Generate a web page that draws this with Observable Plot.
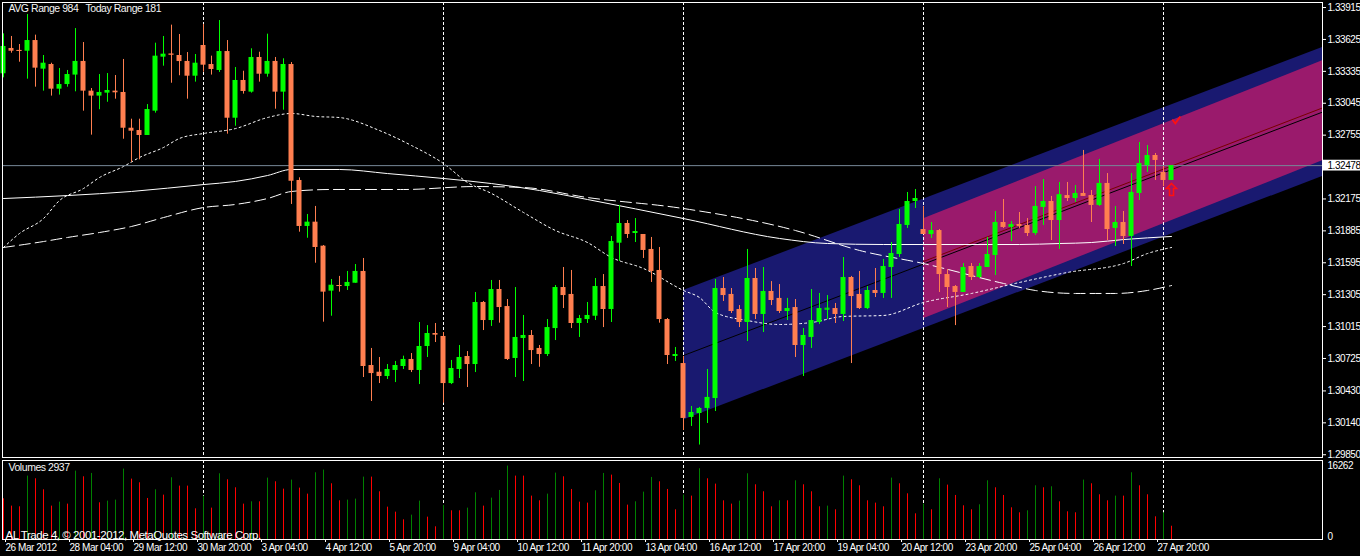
<!DOCTYPE html>
<html><head><meta charset="utf-8">
<script src="https://cdn.jsdelivr.net/npm/d3@7"></script>
<script src="https://cdn.jsdelivr.net/npm/@observablehq/plot@0.6"></script>
<style>
html,body{margin:0;padding:0;background:#000;}
#chart{width:1360px;height:556px;overflow:hidden;background:#000;}
#chart svg{display:block;}
</style></head><body><div id="chart"></div>
<script>
// ---- EURUSD H4, 26 Mar 2012 20:00 .. 30 Apr 04:00 (bar index 0..146)
const open = [
1.33313,1.33543,1.33525,1.33518,1.33615,1.33355,1.33397,1.33173,1.33215,1.33301,
1.33425,1.33155,1.33110,1.33137,1.33155,1.33143,1.32818,1.32797,1.32752,1.32973,
1.33464,1.33491,1.33479,1.33425,1.33291,1.33570,1.33397,1.33343,1.33515,1.32909,
1.33252,1.33146,1.33461,1.33309,1.33425,1.33146,1.33397,1.32343,1.31925,1.31964,
1.31746,1.31337,1.31388,1.31379,1.31409,1.31516,1.30661,1.30600,1.30561,1.30616,
1.30652,1.30716,1.30616,1.30834,1.30952,1.30925,1.30497,1.30625,1.30743,1.30670,
1.31234,1.31070,1.31352,1.31197,1.30725,1.30907,1.30934,1.30816,1.30761,1.30997,
1.31370,1.31307,1.31043,1.31079,1.31109,1.31379,1.31170,1.31773,1.31952,1.31870,
1.31852,1.31716,1.31525,1.31079,1.30752,1.30679,1.30189,1.30225,1.30271,1.30361,
1.31361,1.31307,1.31170,1.31052,1.31452,1.31125,1.31334,1.31271,1.31152,1.31188,
1.30843,1.30916,1.31052,1.31173,1.31179,1.31125,1.31461,1.31307,1.31179,1.31343,
1.31316,1.31552,1.31670,1.31934,1.32152,1.31897,1.31852,1.31888,1.31488,1.31379,
1.31325,1.31561,1.31461,1.31552,1.31661,1.31961,1.31916,1.31943,1.31934,1.31861,
1.32098,1.32152,1.31979,1.32206,1.32179,1.32225,1.32206,1.32116,1.32316,1.31907,
1.31961,1.31834,1.32225,1.32479,1.32570,1.32416,1.32343];
const high = [
1.33676,1.33652,1.33579,1.33852,1.33664,1.33479,1.33409,1.33361,1.33343,1.33724,
1.33597,1.33179,1.33306,1.33315,1.33297,1.33443,1.32900,1.32900,1.33033,1.33591,
1.33652,1.33755,1.33670,1.33506,1.33488,1.33761,1.33473,1.33797,1.33615,1.33370,
1.33336,1.33540,1.33509,1.33673,1.33461,1.33449,1.33415,1.32367,1.32034,1.32107,
1.31752,1.31443,1.31471,1.31516,1.31579,1.31634,1.30816,1.30734,1.30670,1.30698,
1.30746,1.30770,1.31052,1.31024,1.31043,1.30961,1.30707,1.30843,1.30788,1.31325,
1.31243,1.31434,1.31434,1.31261,1.31370,1.31116,1.30979,1.30843,1.31079,1.31388,
1.31552,1.31525,1.31116,1.31234,1.31452,1.31488,1.31834,1.32116,1.31979,1.31997,
1.31852,1.31825,1.31734,1.31088,1.30825,1.30743,1.30289,1.30280,1.30625,1.31443,
1.31461,1.31361,1.31206,1.31716,1.31543,1.31552,1.31424,1.31397,1.31271,1.31261,
1.30997,1.31352,1.31316,1.31297,1.31225,1.31643,1.31471,1.31516,1.31379,1.31543,
1.31625,1.31779,1.32079,1.32234,1.32261,1.32107,1.31961,1.31897,1.31534,1.31388,
1.31588,1.31588,1.31588,1.31825,1.32061,1.32170,1.31970,1.32052,1.31997,1.32288,
1.32352,1.32198,1.32325,1.32325,1.32297,1.32616,1.32252,1.32534,1.32406,1.32107,
1.32061,1.32406,1.32688,1.32661,1.32588,1.32470,1.32478];
const low = [
1.33276,1.33500,1.33418,1.33264,1.33191,1.33155,1.33110,1.33119,1.33191,1.33149,
1.32973,1.32755,1.32986,1.33054,1.33082,1.32718,1.32509,1.32531,1.32752,1.32955,
1.33382,1.33227,1.33295,1.33082,1.33237,1.33327,1.33301,1.33325,1.32764,1.32836,
1.33128,1.33137,1.33237,1.33282,1.32991,1.32982,1.32125,1.31873,1.31818,1.31591,
1.31055,1.31109,1.31328,1.31343,1.31409,1.30552,1.30334,1.30497,1.30534,1.30506,
1.30625,1.30597,1.30488,1.30734,1.30870,1.30319,1.30488,1.30543,1.30461,1.30597,
1.30979,1.31016,1.31046,1.30707,1.30552,1.30516,1.30670,1.30645,1.30743,1.30888,
1.31179,1.30997,1.30916,1.31043,1.31070,1.31006,1.31052,1.31607,1.31816,1.31779,
1.31634,1.31416,1.31046,1.30670,1.30698,1.30071,1.30107,1.29938,1.30134,1.30243,
1.31243,1.31134,1.31006,1.30879,1.31079,1.30961,1.31206,1.31134,1.31070,1.30734,
1.30561,1.30816,1.31034,1.31079,1.31043,1.31061,1.30679,1.31170,1.31170,1.31279,
1.31271,1.31271,1.31643,1.31907,1.32088,1.31852,1.31816,1.31325,1.31188,1.31024,
1.31325,1.31434,1.31452,1.31552,1.31479,1.31907,1.31788,1.31907,1.31834,1.31843,
1.31934,1.31797,1.31716,1.32152,1.32143,1.32198,1.31961,1.32107,1.31797,1.31743,
1.31761,1.31561,1.32161,1.32416,1.32343,1.32288,1.32343];
const close = [
1.33561,1.33518,1.33518,1.33615,1.33364,1.33409,1.33173,1.33215,1.33306,1.33425,
1.33155,1.33110,1.33143,1.33161,1.33140,1.32818,1.32791,1.32752,1.32988,1.33473,
1.33491,1.33485,1.33424,1.33291,1.33409,1.33391,1.33352,1.33515,1.32909,1.33252,
1.33152,1.33461,1.33309,1.33425,1.33146,1.33397,1.32336,1.31925,1.31964,1.31734,
1.31328,1.31391,1.31382,1.31416,1.31516,1.30652,1.30588,1.30561,1.30625,1.30661,
1.30716,1.30616,1.30834,1.30952,1.30937,1.30497,1.30634,1.30734,1.30670,1.31234,
1.31070,1.31352,1.31188,1.30716,1.30916,1.30934,1.30797,1.30761,1.31006,1.31370,
1.31297,1.31043,1.31088,1.31116,1.31379,1.31170,1.31788,1.31952,1.31852,1.31879,
1.31707,1.31516,1.31079,1.30752,1.30761,1.30180,1.30234,1.30271,1.30371,1.31361,
1.31297,1.31152,1.31052,1.31452,1.31125,1.31334,1.31252,1.31152,1.31179,1.30843,
1.30934,1.31070,1.31179,1.31182,1.31125,1.31461,1.31288,1.31179,1.31343,1.31316,
1.31561,1.31679,1.31943,1.32152,1.32179,1.31852,1.31888,1.31488,1.31370,1.31325,
1.31552,1.31461,1.31561,1.31670,1.31961,1.31916,1.31943,1.31925,1.31861,1.32107,
1.32152,1.31979,1.32214,1.32179,1.32225,1.32198,1.32116,1.32316,1.31897,1.31961,
1.31834,1.32234,1.32497,1.32570,1.32525,1.32343,1.32478];
const volume = [
9016,7390,7242,14041,13450,11011,7390,8277,7833,15150,
13893,14632,8129,8499,8720,15593,13376,12563,9090,11011,
9829,13672,11824,11824,6799,9607,6947,14558,13228,11455,
7833,8351,8351,13598,12785,11159,13154,11381,10050,14780,
15371,12341,8572,8720,8942,13819,13819,10568,7168,6060,
4360,5395,8499,4951,2808,7538,6355,6355,6947,10346,
7390,9164,10863,16262,14041,14041,9607,8572,10050,14706,
13893,11085,8277,8055,10789,14632,14263,12415,7612,8351,
10494,13745,12785,11085,6577,9829,9607,15667,13450,12267,
8572,7833,8499,14558,12120,10568,7242,8572,8572,13006,
12120,10568,7242,7390,6577,14041,13228,11898,8572,8055,
7242,13598,12341,10124,5690,7833,6577,13450,12046,9755,
7464,6577,7686,13006,11455,9755,7021,5912,6355,11898,
11455,11676,8351,6134,5912,13154,12341,9903,8572,9607,
9607,14780,11898,9903,5025,5912,2937];

// moving averages (sampled at bar indices)
const maDotIdx = [0,2,5,7,10,12,15,17,20,22,25,29,33,36,39,42,47,51,55,58,61,65,69,73,76,80,85,87,89,93,97,101,105,110,115,121,127,133,140,143,146];
const maDot = [1.31734,1.31861,1.31997,1.32161,1.32270,1.32370,1.32470,1.32552,1.32643,1.32725,1.32770,1.32815,1.32915,1.32952,1.32925,1.32915,1.32797,1.32661,1.32497,1.32325,1.32225,1.32052,1.31888,1.31779,1.31643,1.31543,1.31343,1.31279,1.31143,1.31070,1.31034,1.31052,1.31107,1.31116,1.31234,1.31316,1.31416,1.31507,1.31588,1.31679,1.31734];
const maSolidIdx = [0,8,16,25,29,33,36,42,48,55,61,67,73,85,97,103,110,127,132,136,140,146];
const maSolid = [1.32179,1.32206,1.32243,1.32306,1.32334,1.32388,1.32443,1.32443,1.32406,1.32361,1.32315,1.32252,1.32170,1.31997,1.31816,1.31770,1.31761,1.31761,1.31770,1.31779,1.31806,1.31834];
const maDashIdx = [0,5,8,12,16,20,25,29,33,36,41,50,59,65,73,85,99,107,115,125,129,134,139,143,146];
const maDash = [1.31734,1.31788,1.31825,1.31870,1.31925,1.32006,1.32097,1.32125,1.32179,1.32243,1.32261,1.32261,1.32288,1.32279,1.32188,1.32088,1.31888,1.31707,1.31588,1.31407,1.31343,1.31316,1.31316,1.31343,1.31388];

// regression channel (blue) and std-dev channel (magenta)
const chanIdx = [85, 165];
const chanMid = [1.30752, 1.32968];
const chanUp  = [1.31343, 1.33556];
const chanLo  = [1.30166, 1.32382];
const stdIdx = [115, 165];
const stdMid = [1.31607, 1.33006];
const stdUp  = [1.31995, 1.33434];
const stdLo  = [1.31086, 1.32525];

// signals
const arrowIdx = [146], arrowPrice = [1.32261];
const checkIdx = [146.6], checkPrice = [1.32888];

// axes
const priceTicks = [1.33915,1.33625,1.33335,1.33045,1.32755,1.32175,1.31885,1.31595,1.31305,1.31015,1.30725,1.30430,1.30140,1.29850];
const currentPrice = 1.32478;
const weekStartIdx = [25, 55, 85, 115, 145];
const timeIdx = [0,8,16,24,32,40,48,56,64,72,80,88,96,104,112,120,128,136,144];
const timeLabels = ["26 Mar 2012","28 Mar 04:00","29 Mar 12:00","30 Mar 20:00","3 Apr 04:00","4 Apr 12:00","5 Apr 20:00","9 Apr 04:00","10 Apr 12:00","11 Apr 20:00","13 Apr 04:00","16 Apr 12:00","17 Apr 20:00","19 Apr 04:00","20 Apr 12:00","23 Apr 20:00","25 Apr 04:00","26 Apr 12:00","27 Apr 20:00"];
const avgRange = 984, todayRange = 181;

// ---- build
const FONT = '"Liberation Sans", Arial, sans-serif';
const UP = "#00ff00", DOWN = "#ff7f50";
const bars = open.map((o, i) => ({i, o, h: high[i], l: low[i], c: close[i], v: volume[i]}));
const col = d => d.c > d.o ? UP : DOWN;
const pts = (idx, vals) => idx.map((i, k) => ({i, p: vals[k]}));
const chan = chanIdx.map((i, k) => ({i, m: chanMid[k], u: chanUp[k], l: chanLo[k]}));
const std = stdIdx.map((i, k) => ({i, m: stdMid[k], u: stdUp[k], l: stdLo[k]}));
const xDomain = [-0.125, 164.875];
const labelMap = new Map(timeIdx.map((t, k) => [t, timeLabels[k]]));
const style = {background: "#000", color: "#fff", fontFamily: FONT, fontSize: "10.5px", letterSpacing: "-0.45px", overflow: "visible"};

// hollow block arrow and check-mark glyphs
const arrowSymbol = {draw(ctx) {
  ctx.moveTo(0, -6); ctx.lineTo(5, -1); ctx.lineTo(2, -1); ctx.lineTo(2, 6);
  ctx.lineTo(-2, 6); ctx.lineTo(-2, -1); ctx.lineTo(-5, -1); ctx.closePath();
}};
const checkSymbol = {draw(ctx) {
  ctx.moveTo(-4, -1); ctx.lineTo(-1, 3); ctx.lineTo(4, -4);
}};

const main = Plot.plot({
  width: 1360, height: 458,
  marginLeft: 2, marginRight: 38, marginTop: 2, marginBottom: 1,
  x: {domain: xDomain, axis: null},
  y: {domain: [1.298249, 1.339608], axis: null},
  style,
  marks: [
    Plot.areaY(chan, {x: "i", y1: "l", y2: "u", fill: "#191970", clip: true}),
    Plot.areaY(std, {x: "i", y1: "l", y2: "u", fill: "#9a1a6c", clip: true}),
    Plot.line(chan, {x: "i", y: "m", stroke: "#000", strokeWidth: 1, clip: true}),
    Plot.line(std, {x: "i", y: "m", stroke: "#7a0000", strokeWidth: 1, clip: true}),
    Plot.line(pts(maSolidIdx, maSolid), {x: "i", y: "p", stroke: "#fff", strokeWidth: 1, curve: "monotone-x"}),
    Plot.line(pts(maDashIdx, maDash), {x: "i", y: "p", stroke: "#fff", strokeWidth: 1, strokeDasharray: "11,5", curve: "monotone-x"}),
    Plot.line(pts(maDotIdx, maDot), {x: "i", y: "p", stroke: "#fff", strokeWidth: 1, strokeDasharray: "2,3", curve: "monotone-x"}),
    Plot.ruleX(weekStartIdx, {stroke: "#fff", strokeDasharray: "3,2"}),
    Plot.ruleY([currentPrice], {stroke: "#778899"}),
    Plot.ruleX(bars, {x: "i", y1: "l", y2: "h", stroke: col, strokeWidth: 1}),
    Plot.rect(bars, {x1: d => d.i - 0.3125, x2: d => d.i + 0.3125, y1: "o", y2: "c", fill: col}),
    Plot.ruleY(bars, {filter: d => Math.abs(d.o - d.c) < 0.0001, y: "o", x1: d => d.i - 0.3125, x2: d => d.i + 0.3125, stroke: col}),
    Plot.dot(pts(arrowIdx, arrowPrice), {x: "i", y: "p", symbol: arrowSymbol, r: 6, stroke: "#ff1010", strokeWidth: 1.6, fill: "none"}),
    Plot.dot(pts(checkIdx, checkPrice), {x: "i", y: "p", symbol: checkSymbol, r: 5, stroke: "#ff1010", strokeWidth: 1.8, fill: "none"}),
    Plot.text([`AVG Range ${avgRange}`], {frameAnchor: "top-left", dx: 6, dy: 2, lineAnchor: "top", textAnchor: "start", fill: "#f4f4f4", fontSize: 10.5}),
    Plot.text([`Today Range ${todayRange}`], {frameAnchor: "top-left", dx: 83, dy: 2, lineAnchor: "top", textAnchor: "start", fill: "#f4f4f4", fontSize: 10.5}),
    Plot.axisY(priceTicks, {anchor: "right", tickSize: 3, tickPadding: 2, tickFormat: d => d.toFixed(5), label: null, fontSize: 10}),
    Plot.rect([currentPrice], {x1: () => xDomain[1] + 0.02, x2: () => xDomain[1] + 6, y1: d => d - 0.00049, y2: d => d + 0.00049, fill: "#fff"}),
    Plot.text([currentPrice], {y: d => d, frameAnchor: "right", dx: 5, textAnchor: "start", text: d => d.toFixed(5), fill: "#000", fontSize: 10}),
    Plot.frame({stroke: "#fff"})
  ]
});

const maxVol = d3.max(volume);
const vol = Plot.plot({
  width: 1360, height: 98,
  marginLeft: 2, marginRight: 38, marginTop: 2, marginBottom: 17,
  x: {domain: xDomain, axis: null},
  y: {domain: [0, 17500], axis: null},
  style,
  marks: [
    Plot.ruleX(weekStartIdx, {stroke: "#fff", strokeDasharray: "3,2"}),
    Plot.ruleX(bars, {x: "i", y1: 0, y2: "v", stroke: d => (d.i > 0 && d.v > volume[d.i - 1]) ? "#008000" : "#ff0000", strokeWidth: 1}),
    Plot.text([`Volumes ${volume[volume.length - 1]}`], {frameAnchor: "top-left", dx: 6, dy: 3, lineAnchor: "top", textAnchor: "start", fill: "#f4f4f4", fontSize: 10.5}),
    Plot.text(["AL Trade 4, \u00A9 2001-2012, MetaQuotes Software Corp."], {frameAnchor: "bottom-left", dx: 3, dy: -1, lineAnchor: "bottom", textAnchor: "start", fill: "#fff", fontSize: 11.5}),
    Plot.text([maxVol], {y: d => d, frameAnchor: "right", dx: 5, textAnchor: "start", lineAnchor: "middle", text: d => String(d), fontSize: 10}),
    Plot.text([0], {y: d => d, frameAnchor: "right", dx: 5, textAnchor: "start", lineAnchor: "bottom", text: d => String(d), fontSize: 10}),
    Plot.axisX(timeIdx, {anchor: "bottom", tickSize: 3, tickPadding: 1, textAnchor: "start", dx: 2, tickFormat: d => labelMap.get(d), label: null, fontSize: 10}),
    Plot.frame({stroke: "#fff"})
  ]
});

const root = document.getElementById("chart");
root.append(main, vol);
</script>
</body></html>
